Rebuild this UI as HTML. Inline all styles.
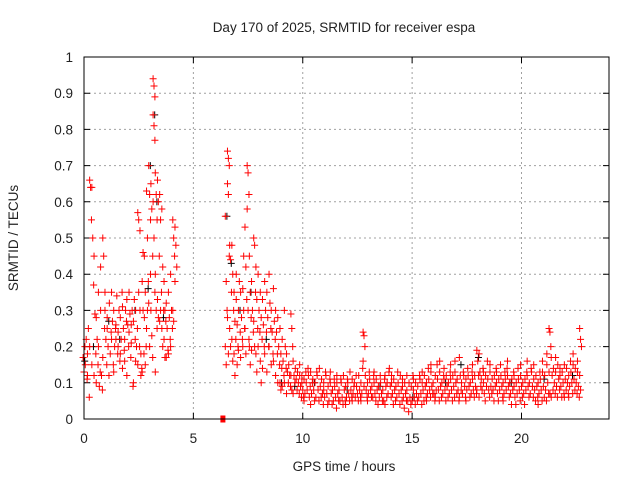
<!DOCTYPE html>
<html><head><meta charset="utf-8"><style>
body{margin:0;background:#fff}
svg{display:block}
text{font-family:"Liberation Sans",sans-serif;font-size:13.5px;fill:#222}
</style></head><body>
<svg id="chart" width="640" height="480" xmlns="http://www.w3.org/2000/svg">
<text x="344" y="32" text-anchor="middle">Day 170 of 2025, SRMTID for receiver espa</text>
<text x="344" y="471" text-anchor="middle">GPS time / hours</text>
<text x="18" y="238" text-anchor="middle" transform="rotate(-90 18 238)">SRMTID / TECUs</text>
<g id="grid"></g><g id="ticks"></g><g id="black"></g><g id="red"></g>
<rect x="84" y="57" width="525" height="362" fill="none" stroke="#000" stroke-width="1"/>
</svg>
<script>
const xTicks=[0,5,10,15,20];
const yTicks=[0,0.1,0.2,0.3,0.4,0.5,0.6,0.7,0.8,0.9,1];
const yTickLabels=["0","0.1","0.2","0.3","0.4","0.5","0.6","0.7","0.8","0.9","1"];
const hours=[0,0.1,0.2,0.3,0.4,0.5,0.6,0.7,0.8,0.9,1.0,1.1,1.2,1.3,1.4,1.5,1.6,1.7,1.8,1.9,2.0,2.1,2.2,2.3,2.4,2.5,2.6,2.7,2.8,2.9,3.0,3.1,3.2,3.3,3.4,3.5,3.6,3.7,3.8,3.9,4.0,4.1,4.2,
6.5,6.6,6.7,6.8,6.9,7.0,7.1,7.2,7.3,7.4,7.5,7.6,7.7,7.8,7.9,8.0,8.1,8.2,8.3,8.4,8.5,8.6,8.7,8.8,8.9,9.0,9.1,9.2,9.3,9.4,9.5,9.6,9.7,9.8,9.9,10.0,
10.1,10.2,10.3,10.4,10.5,10.6,10.7,10.8,10.9,11.0,11.1,11.2,11.3,11.4,11.5,11.6,11.7,11.8,11.9,12.0,12.1,12.2,12.3,12.4,12.5,12.6,12.7,12.8,12.9,13.0,13.1,13.2,13.3,13.4,13.5,13.6,13.7,13.8,13.9,14.0,14.1,14.2,14.3,14.4,14.5,14.6,14.7,14.8,14.9,15.0,15.1,15.2,15.3,15.4,15.5,15.6,15.7,15.8,15.9,16.0,16.1,16.2,16.3,16.4,16.5,16.6,16.7,16.8,16.9,17.0,17.1,17.2,17.3,17.4,17.5,17.6,17.7,17.8,17.9,18.0,18.1,18.2,18.3,18.4,18.5,18.6,18.7,18.8,18.9,19.0,19.1,19.2,19.3,19.4,19.5,19.6,19.7,19.8,19.9,20.0,20.1,20.2,20.3,20.4,20.5,20.6,20.7,20.8,20.9,21.0,21.1,21.2,21.3,21.4,21.5,21.6,21.7,21.8,21.9,22.0,22.1,22.2,22.3,22.4,22.5,22.6,22.7];
const srmtid=[[.17,.13,.20],[.15,.22,.11],[.18,.25,.06,.12],[.66,.64,.55,.2],[.64,.5,.37,.15],[.45,.29,.18,.12],[.28,.22,.15,.1],[.2,.09,.13,.35],[.3,.12,.08,.42],[.5,.45,.25,.17],
[.35,.22,.15,.3],[.28,.2,.12,.25],[.32,.18,.24],[.22,.27,.15,.35],[.3,.2,.25,.13],[.26,.34,.18,.22],[.24,.3,.16,.2],[.28,.22,.35,.18],[.31,.25,.19,.14],[.22,.3,.27,.16],
[.33,.26,.2,.12],[.24,.29,.17,.35],[.21,.3,.09,.26],[.27,.33,.22,.1],[.3,.2,.25,.16],[.57,.55,.2,.15,.35],[.52,.18,.14,.3,.12],[.38,.3,.18,.13,.46],[.45,.35,.2,.28,.15],[.63,.5,.38,.25,.3],
[.7,.62,.4,.32,.2,.55],[.65,.58,.45,.3,.23,.17],[.94,.92,.89,.84,.81,.77,.6,.5,.35],[.68,.62,.55,.4,.3,.25,.13],[.66,.6,.45,.33,.28],[.62,.55,.35,.27,.3],[.58,.42,.3,.25,.2],[.38,.3,.27,.22,.17],[.32,.25,.19,.17],[.35,.28,.22,.18],
[.4,.3,.25,.2],[.55,.5,.45,.3,.27],[.53,.48,.42,.38],
[.56,.38,.3,.2,.15],[.74,.72,.7,.65,.62,.45,.28,.18],[.48,.44,.35,.25,.2],[.48,.4,.3,.22,.16],[.35,.27,.22,.18,.12],[.33,.26,.2,.4,.15],[.3,.38,.24,.19],[.35,.28,.22,.17],[.36,.3,.25,.2,.45],[.53,.42,.33,.25,.18],
[.7,.68,.62,.58,.3,.22],[.45,.35,.28,.2,.15],[.38,.3,.24,.19],[.5,.48,.35,.27,.2],[.42,.33,.25,.18,.13],[.4,.3,.24,.2],[.35,.28,.22,.16,.1],[.33,.26,.2,.14],[.38,.3,.24,.18],[.35,.28,.2,.13],
[.4,.32,.25,.2],[.3,.24,.18,.15],[.36,.27,.22,.16],[.3,.24,.18,.12],[.28,.2,.15,.1],[.25,.18,.14,.1,.08],[.22,.16,.12,.09],[.3,.2,.14,.1],[.18,.13,.1,.07],[.15,.12,.09],
[.29,.25,.2,.12,.08],[.16,.12,.1,.07],[.14,.11,.08],[.13,.1,.07],[.12,.09,.06,.15],[.12,.08,.06,.1],
[.11,.07,.13,.05],[.1,.08,.14],[.12,.06,.09],[.13,.07,.1,.04],[.11,.08,.05],[.1,.06,.13],[.12,.08,.05],[.14,.09,.06],[.11,.07,.04],[.1,.06,.13,.08],
[.12,.07,.04],[.09,.05,.11],[.1,.07,.04,.13],[.08,.05,.11],[.09,.06,.03],[.1,.07,.05,.12],[.08,.05,.11],[.1,.06,.04],[.12,.08,.05],[.09,.06,.11,.04],
[.1,.07,.05],[.13,.08,.06],[.11,.07,.09,.05],[.1,.06,.12],[.09,.07,.05],[.12,.08,.06],[.1,.07,.14,.05],[.24,.23,.2,.16,.09],[.12,.08,.06],[.1,.07,.13,.05],
[.11,.08,.06],[.09,.06,.12],[.1,.07,.05,.13],[.11,.08,.04],[.09,.06,.12],[.1,.07,.05],[.08,.05,.11],[.12,.09,.06,.04],[.1,.07,.13],[.14,.09,.06],
[.1,.07,.04,.12],[.11,.08,.05],[.09,.06,.13],[.1,.07,.04],[.12,.08,.05],[.09,.06,.03,.11],[.1,.07,.05],[.08,.05,.02,.12],[.1,.06,.04],[.09,.05,.12],
[.08,.06,.04,.11],[.1,.07,.05],[.09,.06,.12],[.11,.07,.04],[.1,.08,.05,.13],[.12,.09,.06],[.1,.07,.14,.05],[.11,.08,.06],[.13,.09,.07,.15],[.1,.07,.05],
[.12,.08,.15,.06],[.11,.08,.05],[.13,.09,.06,.16],[.1,.07,.12],[.11,.08,.05,.14],[.12,.09,.06],[.1,.07,.13],[.11,.08,.05,.15],[.12,.09,.06],[.13,.1,.07,.16],
[.11,.08,.05],[.17,.12,.08,.06],[.1,.07,.13],[.12,.09,.06],[.11,.08,.14,.05],[.12,.09,.06],[.1,.07,.13],[.11,.08,.06,.15],[.12,.09,.07],[.19,.16,.12,.08],
[.18,.13,.09,.06],[.11,.08,.14],[.1,.07,.05,.13],[.12,.09,.16],[.11,.08,.06],[.13,.09,.07,.15],[.11,.08,.05],[.12,.09,.14],[.1,.07,.05,.13],[.11,.08,.15],
[.12,.09,.06],[.1,.07,.13,.05],[.11,.08,.14],[.12,.09,.06,.16],[.1,.07,.04],[.11,.08,.13],[.09,.06,.04,.12],[.1,.07,.14],[.11,.08,.05],[.12,.09,.06,.15],
[.1,.07,.04],[.11,.08,.13],[.12,.09,.06,.16],[.1,.07,.14],[.13,.09,.06],[.11,.08,.05,.15],[.12,.09,.06],[.1,.07,.13,.04],[.11,.08,.05],[.13,.09,.06,.16],
[.12,.08,.05],[.15,.1,.07,.18],[.25,.24,.2,.13,.07],[.17,.12,.08,.06],[.14,.1,.07],[.13,.09,.06,.17],[.15,.11,.08],[.12,.09,.06,.14],[.13,.1,.07],[.15,.11,.08,.06],
[.14,.1,.07],[.12,.09,.16,.06],[.13,.1,.07],[.15,.11,.08,.18],[.14,.1,.07],[.13,.09,.06,.16],[.25,.22,.2,.12,.08]];
const blackHours=[0,0.4,1.1,1.6,2.3,2.9,3.0,3.2,3.3,3.6,6.5,6.7,7.1,7.6,8.3,9.0,9.6,10.5,12.0,13.5,15.0,16.5,17.2,18.0,19.5,21.0,22.3];
const blackVals=[.16,.2,.27,.22,.3,.36,.7,.84,.6,.28,.56,.43,.3,.35,.22,.1,.09,.1,.08,.09,.06,.1,.15,.17,.1,.11,.12];
const zeroHours=[6.35];
const zeroVals=[0];
const NS='http://www.w3.org/2000/svg';
const X=h=>84+h*525/24, Y=v=>419-v*362;
const g=id=>document.getElementById(id);
function mk(tag,attrs,parent){const e=document.createElementNS(NS,tag);for(const k in attrs)e.setAttribute(k,attrs[k]);parent.appendChild(e);return e;}
xTicks.forEach(t=>{
  const x=X(t);
  if(t>0){const l=mk('line',{x1:x,x2:x,y1:57,y2:419,stroke:'#a0a0a0','stroke-dasharray':'2,3'},g('grid'));
  
  }
  const tk=mk('path',{d:`M${x},419v-6M${x},57v6`,stroke:'#000'},g('ticks'));
  
  
  const tx=mk('text',{x:x,y:443,'text-anchor':'middle'},g('ticks'));tx.textContent=String(t);
  
  
});
yTicks.forEach((t,i)=>{
  const y=Y(t);
  if(t>0&&t<1){const l=mk('line',{x1:84,x2:609,y1:y,y2:y,stroke:'#a0a0a0','stroke-dasharray':'2,3'},g('grid'));
  
  }
  const tk=mk('path',{d:`M84,${y}h6M609,${y}h-6`,stroke:'#000'},g('ticks'));
  
  
  const tx=mk('text',{x:73,y:y+5,'text-anchor':'end'},g('ticks'));tx.textContent=yTickLabels[i];
  
  
});
function plus(h,v,color,parent,name,dx){
  const x=X(h)+dx,y=Y(v);
  const p=mk('path',{d:`M${x-3.5},${y}h7M${x},${y-3.5}v7`,stroke:color,'stroke-width':1},parent);
  
  
}
blackHours.forEach((h,i)=>plus(h,blackVals[i],'#000',g('black'),'black-point',0.7));
hours.forEach((h,i)=>srmtid[i].forEach((v,j)=>plus(h,v,'#ff0000',g('red'),'srmtid-point',((j%3)-1)*0.9)));
zeroHours.forEach((h,i)=>{
  const r=mk('rect',{x:X(h)-2.5,y:Y(zeroVals[i])-3.5,width:5,height:7,fill:'#ff0000'},g('red'));
  
  
});
</script>
</body></html>
